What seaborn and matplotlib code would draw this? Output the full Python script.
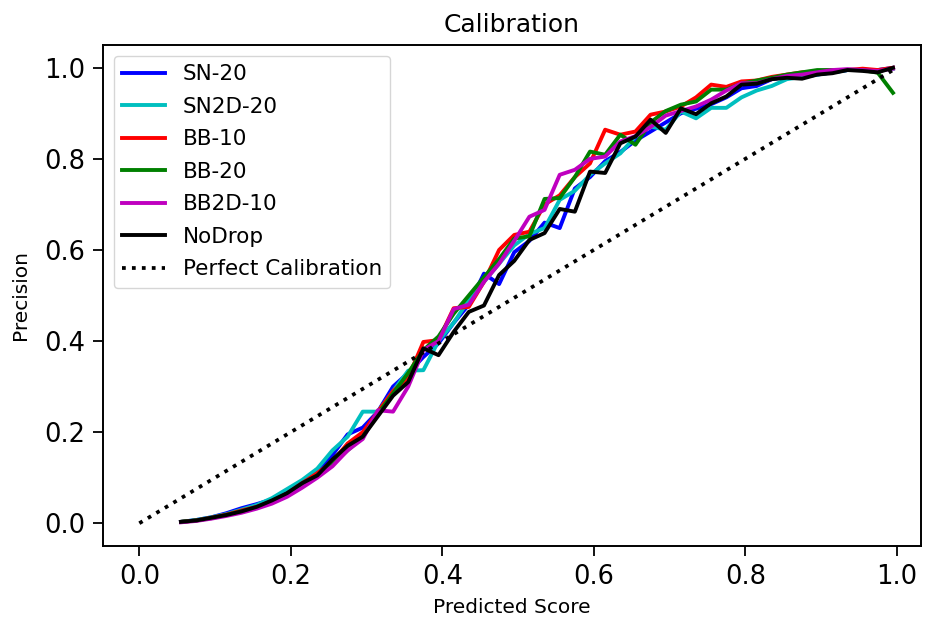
import numpy as np
import pandas as pd
import matplotlib
matplotlib.use("Agg")
import matplotlib.pyplot as plt
import seaborn as sns

# ---- data ----
scores = [0.055, 0.075, 0.095, 0.115, 0.135, 0.155, 0.175, 0.195, 0.215, 0.235,
          0.255, 0.275, 0.295, 0.315, 0.335, 0.355, 0.375, 0.395, 0.415, 0.435,
          0.455, 0.475, 0.495, 0.515, 0.535, 0.555, 0.575, 0.595, 0.615, 0.635,
          0.655, 0.675, 0.695, 0.715, 0.735, 0.755, 0.775, 0.795, 0.815, 0.835,
          0.855, 0.875, 0.895, 0.915, 0.935, 0.955, 0.975, 0.995]

sn_20 = [0.003, 0.007, 0.013, 0.022, 0.033, 0.042, 0.052, 0.070, 0.092, 0.115,
         0.150, 0.195, 0.210, 0.245, 0.300, 0.330, 0.365, 0.395, 0.440, 0.480,
         0.548, 0.525, 0.595, 0.620, 0.660, 0.648, 0.735, 0.760, 0.795, 0.815,
         0.840, 0.860, 0.880, 0.900, 0.910, 0.920, 0.935, 0.955, 0.960, 0.975,
         0.980, 0.980, 0.985, 0.990, 0.995, 0.995, 0.995, 1.000]

sn2d_20 = [0.003, 0.007, 0.013, 0.020, 0.030, 0.040, 0.055, 0.075, 0.095, 0.120,
           0.160, 0.190, 0.245, 0.245, 0.290, 0.335, 0.336, 0.400, 0.440, 0.490,
           0.530, 0.570, 0.610, 0.635, 0.648, 0.710, 0.730, 0.765, 0.790, 0.812,
           0.849, 0.871, 0.864, 0.904, 0.889, 0.912, 0.912, 0.935, 0.950, 0.960,
           0.975, 0.980, 0.985, 0.990, 0.995, 0.995, 0.995, 0.998]

bb_10 = [0.003, 0.006, 0.012, 0.019, 0.028, 0.036, 0.048, 0.065, 0.088, 0.110,
         0.135, 0.175, 0.200, 0.245, 0.290, 0.320, 0.398, 0.402, 0.472, 0.475,
         0.530, 0.600, 0.633, 0.640, 0.700, 0.720, 0.760, 0.790, 0.864, 0.853,
         0.860, 0.897, 0.904, 0.915, 0.935, 0.963, 0.958, 0.970, 0.972, 0.980,
         0.985, 0.990, 0.992, 0.995, 0.995, 0.998, 0.995, 1.000]

bb_20 = [0.003, 0.006, 0.011, 0.018, 0.026, 0.034, 0.045, 0.065, 0.085, 0.105,
         0.130, 0.160, 0.190, 0.240, 0.285, 0.330, 0.380, 0.410, 0.460, 0.500,
         0.540, 0.580, 0.625, 0.630, 0.712, 0.714, 0.760, 0.816, 0.809, 0.853,
         0.831, 0.880, 0.905, 0.919, 0.926, 0.952, 0.952, 0.965, 0.972, 0.978,
         0.985, 0.990, 0.995, 0.995, 0.995, 0.995, 0.989, 0.945]

bb2d_10 = [0.002, 0.005, 0.010, 0.016, 0.023, 0.032, 0.043, 0.058, 0.078, 0.100,
           0.125, 0.160, 0.185, 0.248, 0.245, 0.300, 0.380, 0.400, 0.470, 0.480,
           0.530, 0.570, 0.620, 0.673, 0.688, 0.765, 0.776, 0.800, 0.805, 0.838,
           0.850, 0.870, 0.895, 0.905, 0.915, 0.930, 0.950, 0.966, 0.966, 0.975,
           0.982, 0.985, 0.990, 0.995, 0.997, 0.995, 0.993, 0.998]

nodrop = [0.003, 0.006, 0.012, 0.018, 0.026, 0.036, 0.050, 0.066, 0.088, 0.105,
          0.140, 0.170, 0.190, 0.235, 0.280, 0.310, 0.384, 0.369, 0.420, 0.464,
          0.478, 0.545, 0.576, 0.622, 0.637, 0.690, 0.684, 0.772, 0.769, 0.834,
          0.849, 0.886, 0.857, 0.911, 0.898, 0.922, 0.937, 0.963, 0.965, 0.975,
          0.978, 0.976, 0.985, 0.988, 0.995, 0.993, 0.990, 1.000]

perfect_x = [0.0, 1.0]
perfect_y = [0.0, 1.0]

series_names = ["SN-20", "SN2D-20", "BB-10", "BB-20", "BB2D-10", "NoDrop"]
series_values = [sn_20, sn2d_20, bb_10, bb_20, bb2d_10, nodrop]
series_colors = ["b", "c", "r", "g", "m", "k"]

# ---- plot ----
plt.rcParams["font.family"] = ["DejaVu Sans"]
fig = plt.figure(figsize=(9.26, 6.24), dpi=100)
ax = fig.add_axes([0.1112, 0.125, 0.8834, 0.8029])

for name, vals, col in zip(series_names, series_values, series_colors):
    df = pd.DataFrame({"score": scores, "precision": vals})
    sns.lineplot(data=df, x="score", y="precision", color=col, lw=2.8,
                 label=name, ax=ax, sort=False, estimator=None)

dfp = pd.DataFrame({"score": perfect_x, "precision": perfect_y})
sns.lineplot(data=dfp, x="score", y="precision", color="k", lw=2.7,
             linestyle=":", label="Perfect Calibration", ax=ax,
             sort=False, estimator=None)

ax.set_xlim(-0.048, 1.032)
ax.set_ylim(-0.05, 1.05)
ax.set_xticks([0.0, 0.2, 0.4, 0.6, 0.8, 1.0])
ax.set_yticks([0.0, 0.2, 0.4, 0.6, 0.8, 1.0])
ax.set_xticklabels(["0.0", "0.2", "0.4", "0.6", "0.8", "1.0"])
ax.set_yticklabels(["0.0", "0.2", "0.4", "0.6", "0.8", "1.0"])
ax.tick_params(labelsize=18.5, length=7, width=1.3, pad=6)
for s in ax.spines.values():
    s.set_linewidth(1.4)
ax.set_xlabel("Predicted Score", fontsize=14.5, labelpad=6)
ax.set_ylabel("Precision", fontsize=14.5, labelpad=10)
ax.set_title("Calibration", fontsize=18, pad=9)
ax.legend(loc="upper left", fontsize=15.5, handlelength=2.0,
          labelspacing=0.58, borderaxespad=0.5)

fig.savefig("out.png", dpi=100)
